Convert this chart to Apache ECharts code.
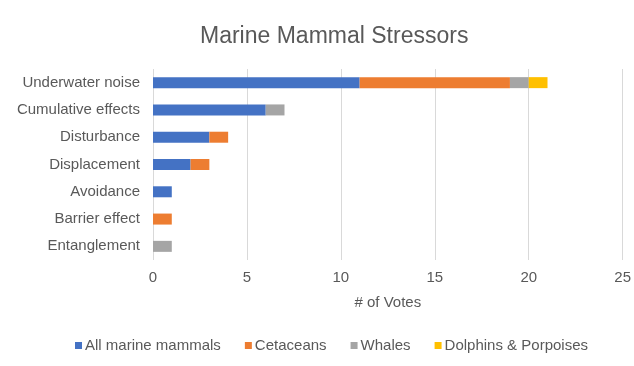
<!DOCTYPE html>
<html>
<head>
<meta charset="utf-8">
<script src="https://cdn.jsdelivr.net/npm/echarts@6/dist/echarts.min.js"></script>
<style>
  html, body { margin: 0; padding: 0; background: #fff; }
  #chart { width: 634px; height: 366px; }
</style>
</head>
<body>
<div id="chart"></div>
<script>
// Stressor categories, listed top to bottom
const categories = [
  'Underwater noise', 'Cumulative effects', 'Disturbance', 'Displacement',
  'Avoidance', 'Barrier effect', 'Entanglement'
];
// Votes per group for each stressor (same order as categories)
const allMarineMammals   = [11, 6, 3, 2, 1, 0, 0];
const cetaceans          = [8, 0, 1, 1, 0, 1, 0];
const whales             = [1, 1, 0, 0, 0, 0, 1];
const dolphinsPorpoises  = [1, 0, 0, 0, 0, 0, 0];
const xTicks = [0, 5, 10, 15, 20, 25];

const FONT = '"Liberation Sans", Arial, sans-serif';
const TXT = '#595959';

function series(name, data, color) {
  return {
    name: name,
    type: 'bar',
    stack: 'votes',
    data: data,
    barWidth: 11,
    itemStyle: { color: color },
    emphasis: { disabled: true }
  };
}

const chart = echarts.init(document.getElementById('chart'), null, { renderer: 'canvas' });
chart.setOption({
  animation: false,
  backgroundColor: '#fff',
  title: {
    text: 'Marine Mammal Stressors',
    left: 195,
    top: 20,
    textStyle: { fontFamily: FONT, fontSize: 23, fontWeight: 'normal', color: TXT }
  },
  legend: {
    bottom: 8,
    left: 70,
    itemWidth: 7,
    itemHeight: 7,
    itemGap: 24,
    icon: 'rect',
    textStyle: { fontFamily: FONT, fontSize: 15, color: TXT, padding: [0, 0, 0, -2] },
    data: ['All marine mammals', 'Cetaceans', 'Whales', 'Dolphins & Porpoises']
  },
  grid: { left: 153, right: 11, top: 69, bottom: 106, containLabel: false },
  xAxis: {
    type: 'value',
    min: xTicks[0],
    max: xTicks[xTicks.length - 1],
    interval: 5,
    name: '# of Votes',
    nameLocation: 'middle',
    nameGap: 35,
    nameTextStyle: { fontFamily: FONT, fontSize: 15, color: TXT },
    axisLine: { show: false },
    axisTick: { show: false },
    axisLabel: { fontFamily: FONT, fontSize: 15, color: TXT, margin: 10 },
    splitLine: { lineStyle: { color: '#d9d9d9', width: 1 } }
  },
  yAxis: {
    type: 'category',
    data: categories,
    inverse: true,
    axisLine: { show: false },
    axisTick: { show: false },
    axisLabel: { fontFamily: FONT, fontSize: 15, color: TXT, margin: 13 }
  },
  series: [
    series('All marine mammals', allMarineMammals, '#4472c4'),
    series('Cetaceans', cetaceans, '#ed7d31'),
    series('Whales', whales, '#a5a5a5'),
    series('Dolphins & Porpoises', dolphinsPorpoises, '#ffc000')
  ]
});
</script>
</body>
</html>
